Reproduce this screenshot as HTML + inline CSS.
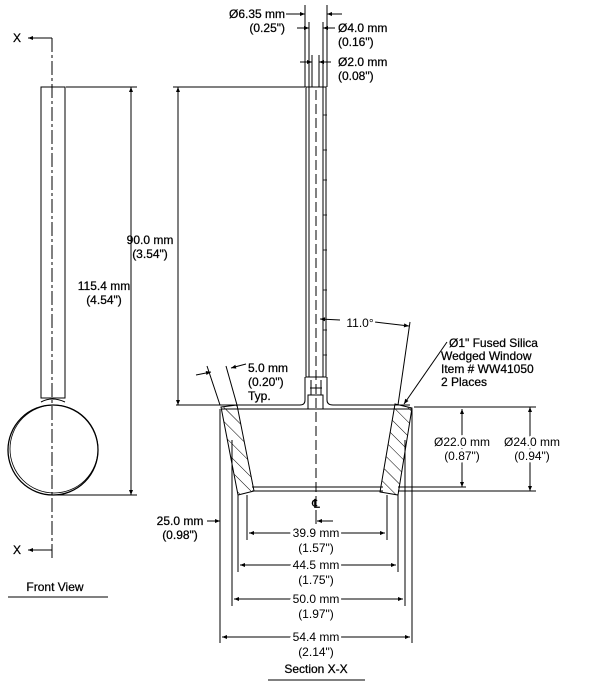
<!DOCTYPE html>
<html><head><meta charset="utf-8"><style>
html,body{margin:0;padding:0;background:#fff}
svg{display:block}
text{font-family:"Liberation Sans",sans-serif;font-size:12px;fill:#000;stroke:#000;stroke-width:0.25}
text.h{stroke:#fff;stroke-width:5;paint-order:stroke}
</style></head><body>
<svg width="600" height="684" viewBox="0 0 600 684" xmlns="http://www.w3.org/2000/svg">
<defs>
<marker id="a" viewBox="0 0 10 10" refX="10" refY="5" markerWidth="7" markerHeight="5" orient="auto-start-reverse" markerUnits="userSpaceOnUse"><path d="M0,1 L10,5 L0,9z" fill="#000"/></marker>
<pattern id="h" width="10" height="10" patternUnits="userSpaceOnUse" patternTransform="rotate(-45)"><line x1="0" y1="0" x2="0" y2="10" stroke="#000" stroke-width="1"/></pattern>
</defs>
<g stroke="#000" stroke-width="1" fill="none">
<line x1="52" y1="38" x2="52" y2="560" stroke-dasharray="14,3,3,3"/>
<line x1="52" y1="38" x2="28" y2="38" marker-end="url(#a)"/>
<line x1="52" y1="550" x2="28" y2="550" marker-end="url(#a)"/>
<rect x="41" y="87" width="24" height="311"/>
<path d="M41,402 Q52,396 65,402"/>
<circle cx="53" cy="450" r="45" stroke-width="1.3"/>
<circle cx="54" cy="449" r="44" stroke-width="0.8"/>
<line x1="66" y1="87" x2="137" y2="87"/>
<line x1="52" y1="495" x2="137" y2="495"/>
<line x1="131" y1="87" x2="131" y2="495" marker-start="url(#a)" marker-end="url(#a)"/>
<line x1="8" y1="597" x2="108" y2="597"/>

<line x1="173" y1="87" x2="305" y2="87"/>
<line x1="178" y1="87" x2="178" y2="405" marker-start="url(#a)" marker-end="url(#a)"/>
<rect x="306" y="87" width="20" height="290"/>
<line x1="309" y1="87" x2="309" y2="377"/>
<line x1="323" y1="87" x2="323" y2="377"/>
<line x1="316" y1="90" x2="316" y2="520" stroke-dasharray="10,4"/>
<line x1="311" y1="380" x2="311" y2="395"/><line x1="321" y1="380" x2="321" y2="395"/>
<line x1="310" y1="377" x2="322" y2="377"/><line x1="310" y1="388" x2="322" y2="388"/>
<rect x="308" y="395" width="15" height="14"/>
<g stroke-width="0.8">
<line x1="323" y1="115" x2="327" y2="115"/><line x1="323" y1="150" x2="327" y2="150"/><line x1="323" y1="180" x2="327" y2="180"/><line x1="323" y1="215" x2="327" y2="215"/><line x1="323" y1="250" x2="327" y2="250"/><line x1="323" y1="290" x2="327" y2="290"/><line x1="323" y1="330" x2="327" y2="330"/><line x1="323" y1="355" x2="327" y2="355"/>
</g>
<path d="M176,405 L300,405 Q305,405 305,400 L305,377"/>
<path d="M327,377 L327,400 Q327,405 333,405 L410,405"/>
<line x1="222" y1="409" x2="412" y2="409"/>
<line x1="305" y1="5" x2="305" y2="87"/><line x1="327" y1="5" x2="327" y2="87"/>
<line x1="309" y1="22" x2="309" y2="87"/><line x1="323" y1="22" x2="323" y2="87"/>
<line x1="312" y1="55" x2="312" y2="87"/><line x1="319" y1="55" x2="319" y2="87"/>
<line x1="286" y1="14" x2="305" y2="14" marker-end="url(#a)"/><line x1="342" y1="14" x2="327" y2="14" marker-end="url(#a)"/>
<line x1="297" y1="28" x2="309" y2="28" marker-end="url(#a)"/><line x1="335" y1="28" x2="323" y2="28" marker-end="url(#a)"/>
<line x1="300" y1="62" x2="312" y2="62" marker-end="url(#a)"/><line x1="331" y1="62" x2="319" y2="62" marker-end="url(#a)"/>
<polygon points="221,407 237,405 254,491 238,495" fill="url(#h)"/>
<polygon points="395,404 412,408 398,495 380,492" fill="url(#h)"/>
<line x1="252" y1="487" x2="383" y2="487"/><line x1="252" y1="491" x2="383" y2="491"/>
<line x1="398" y1="487" x2="466" y2="487"/><line x1="398" y1="491" x2="536" y2="491"/>
<line x1="414" y1="407" x2="536" y2="407"/>
<line x1="462" y1="409" x2="462" y2="487" marker-start="url(#a)" marker-end="url(#a)"/>
<line x1="530" y1="407" x2="530" y2="491" marker-start="url(#a)" marker-end="url(#a)"/>
<line x1="220" y1="409" x2="220" y2="643"/><line x1="412" y1="409" x2="412" y2="643"/>
<line x1="232" y1="440" x2="232" y2="606"/><line x1="405" y1="440" x2="405" y2="606"/>
<line x1="238" y1="495" x2="238" y2="572"/><line x1="398" y1="495" x2="398" y2="572"/>
<line x1="247" y1="495" x2="247" y2="540"/><line x1="387" y1="495" x2="387" y2="540"/>
<line x1="222" y1="637" x2="410" y2="637" marker-start="url(#a)" marker-end="url(#a)"/>
<line x1="234" y1="599" x2="403" y2="599" marker-start="url(#a)" marker-end="url(#a)"/>
<line x1="240" y1="565" x2="396" y2="565" marker-start="url(#a)" marker-end="url(#a)"/>
<line x1="249" y1="533" x2="385" y2="533" marker-start="url(#a)" marker-end="url(#a)"/>
<line x1="316" y1="512" x2="316" y2="524"/>
<line x1="333" y1="521" x2="317" y2="521" marker-end="url(#a)"/>
<line x1="207" y1="521" x2="220" y2="521" marker-end="url(#a)"/>
<line x1="268" y1="680" x2="365" y2="680"/>
<line x1="220" y1="405" x2="207" y2="366"/><line x1="237" y1="405" x2="226" y2="366"/>
<line x1="196" y1="375" x2="211" y2="372" marker-end="url(#a)"/>
<line x1="246" y1="364" x2="231" y2="368" marker-end="url(#a)"/>
<line x1="410" y1="322" x2="398" y2="405"/>
<line x1="340" y1="320" x2="320" y2="319" marker-end="url(#a)"/>
<line x1="375" y1="322" x2="409" y2="326" marker-end="url(#a)"/>
<line x1="447" y1="342" x2="404" y2="404" marker-end="url(#a)"/>
</g>
<text x="17" y="42" text-anchor="middle" font-size="13">X</text>
<text x="17" y="554" text-anchor="middle" font-size="13">X</text>
<text x="104" y="290" text-anchor="middle">115.4 mm</text>
<text x="104" y="304" text-anchor="middle">(4.54")</text>
<text x="55" y="591" text-anchor="middle">Front View</text>
<text x="150" y="244" text-anchor="middle">90.0 mm</text>
<text x="150" y="258" text-anchor="middle">(3.54")</text>
<text x="285" y="18" text-anchor="end">Ø6.35 mm</text>
<text x="285" y="32" text-anchor="end">(0.25")</text>
<text x="338" y="32">Ø4.0 mm</text>
<text x="338" y="46">(0.16")</text>
<text x="338" y="66">Ø2.0 mm</text>
<text x="338" y="80">(0.08")</text>
<text class="h" x="360" y="327" text-anchor="middle">11.0°</text>
<text x="449" y="347">Ø1" Fused Silica</text>
<text x="441" y="360">Wedged Window</text>
<text x="441" y="373">Item # WW41050</text>
<text x="441" y="386">2 Places</text>
<text x="248" y="372">5.0 mm</text>
<text x="248" y="386">(0.20")</text>
<text x="248" y="400">Typ.</text>
<text class="h" x="462" y="446" text-anchor="middle">Ø22.0 mm</text>
<text class="h" x="462" y="460" text-anchor="middle">(0.87")</text>
<text class="h" x="532" y="446" text-anchor="middle">Ø24.0 mm</text>
<text class="h" x="532" y="460" text-anchor="middle">(0.94")</text>
<text x="316" y="508" text-anchor="middle" font-size="8">℄</text>
<text x="180" y="525" text-anchor="middle">25.0 mm</text>
<text x="180" y="539" text-anchor="middle">(0.98")</text>
<g text-anchor="middle">
<text class="h" x="316" y="537">39.9 mm</text><text class="h" x="316" y="552">(1.57")</text>
<text class="h" x="316" y="569">44.5 mm</text><text class="h" x="316" y="584">(1.75")</text>
<text class="h" x="316" y="603">50.0 mm</text><text class="h" x="316" y="618">(1.97")</text>
<text class="h" x="316" y="641">54.4 mm</text><text class="h" x="316" y="656">(2.14")</text>
</g>
<text x="316" y="673" text-anchor="middle">Section X-X</text>
</svg>
</body></html>
